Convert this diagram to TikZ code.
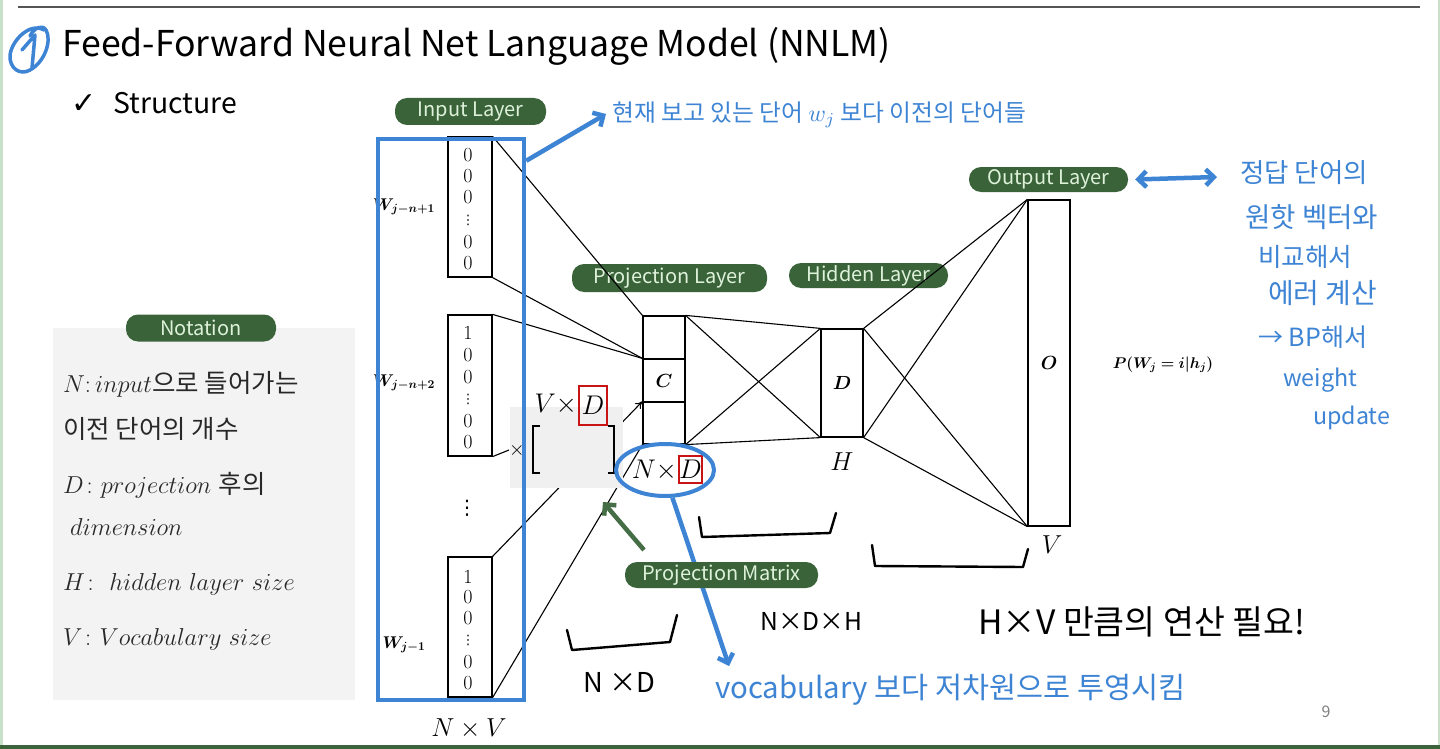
\RequirePackage{fix-cm}
\documentclass[tikz,border=0pt]{standalone}
\usepackage{amsmath}
\usepackage{bm}
\usepackage{fontspec}
\usepackage{graphicx}
\newfontfamily\kr{Noto Sans CJK KR}
\newfontfamily\dejavu{DejaVu Sans}
\usetikzlibrary{arrows.meta,shapes.geometric}
\definecolor{pillgreen}{RGB}{58,99,58}
\definecolor{pilltext}{RGB}{222,242,218}
\definecolor{hblue}{RGB}{62,132,212}
\definecolor{boxred}{RGB}{200,20,20}
\definecolor{notegray}{RGB}{243,243,243}
\definecolor{matgray}{RGB}{240,240,240}
\definecolor{framegreen}{RGB}{200,225,200}
\definecolor{bottomgreen}{RGB}{60,100,60}
\definecolor{topgray}{RGB}{85,85,85}
\definecolor{arrowgreen}{RGB}{70,110,70}
\definecolor{notetextcol}{RGB}{40,40,40}
\tikzset{
  pill/.style={fill=pillgreen, rounded corners=12pt, text=pilltext, font=\kr\fontsize{20}{20}\selectfont, inner sep=0pt},
  wire/.style={draw=black, line width=1.1pt},
  layerbox/.style={draw=black, line width=1.2pt, inner sep=0pt},
  bluestroke/.style={draw=hblue, line width=4.5pt},
  bluearrow/.style={draw=hblue, line width=4.5pt, -{Straight Barb[length=8pt,width=16pt]}},
  hand/.style={inner sep=0pt, anchor=west},
  onehot/.style={font=\fontsize{20}{20}\selectfont, inner sep=0pt},
  vdot/.style={inner sep=0pt, font=\dejavu\fontsize{13}{13}\selectfont},
  wlabel/.style={font=\fontsize{17}{17}\selectfont, inner sep=0pt},
  notetext/.style={anchor=base west, inner sep=0pt, text=notetextcol, font=\fontsize{24.5}{25}\selectfont},
  bigmath/.style={inner sep=0pt, font=\fontsize{27}{27}\selectfont},
  redbox/.style={draw=boxred, line width=2pt, inner sep=0pt, font=\fontsize{27}{27}\selectfont},
  brace/.style={draw=black, line width=2.4pt, line cap=round, line join=round},
}
\newcommand{\krn}{\kr\fontsize{25.5}{26}\selectfont}
\begin{document}
\begin{tikzpicture}[x=1pt,y=-1pt]
\useasboundingbox (0,0) rectangle (1440,749);
\fill[white] (0,0) rectangle (1440,749);
\fill[framegreen] (0,0) rectangle (2.5,749);
\fill[framegreen] (1437.5,0) rectangle (1440,749);
\fill[bottomgreen] (0,745) rectangle (1440,749);
\draw[line width=2.5pt, topgray] (18,7) -- (1420,7);

% title
\node[anchor=base west, inner sep=0pt, font=\kr\fontsize{35.6}{36}\selectfont] (title) at (62,57) {Feed-Forward Neural Net Language Model (NNLM)};
\draw[hblue, line width=3.5pt, line cap=round, line join=round]
  (44,30) .. controls (30,22) and (12,40) .. (10,55)
  .. controls (9,68) and (20,76) .. (30,70)
  .. controls (45,62) and (52,40) .. (46,30)
  .. controls (42,24) and (34,28) .. (30,36);
\draw[hblue, line width=3.5pt, line cap=round, line join=round] (22,50) -- (35,35) -- (32,68);
\node[anchor=base west, inner sep=0pt, font=\dejavu\fontsize{30}{30}\selectfont] (check) at (71,114) {✓};
\node[anchor=base west, inner sep=0pt, font=\kr\fontsize{28.4}{28}\selectfont] (structure) at (113,114) {Structure};

% notation panel
\fill[notegray] (53,328) rectangle (355,700);
\node[pill, minimum width=150pt, minimum height=27pt] (notation) at (201,328) {Notation};
\node[notetext] (n1) at (63,392) {$N\mathpunct{:}input${\krn 으로 들어가는}};
\node[notetext] (n2) at (63,438) {{\krn 이전 단어의 개수}};
\node[notetext] (n3) at (63,493) {$D\colon projection$ {\krn 후의}};
\node[notetext] (n4) at (70,535) {$dimension$};
\node[notetext] (n5) at (63,590) {$H\colon\ hidden\ layer\ size$};
\node[notetext] (n6) at (63,645) {$V\colon Vocabulary\ size$};

% pills
\node[pill, minimum width=151pt, minimum height=27pt] (inpill) at (470.5,111.5) {Input Layer};
\node[pill, minimum width=195pt, minimum height=28pt] (projpill) at (669.5,278) {Projection Layer};
\node[pill, minimum width=159pt, minimum height=25pt] (hidpill) at (868.5,275.5) {Hidden Layer};
\node[pill, minimum width=159pt, minimum height=25pt] (outpill) at (1048.5,179.5) {Output Layer};

% one-hot vectors
\node[layerbox, minimum width=44pt, minimum height=140pt] (v1) at (470,207) {};
\node[layerbox, minimum width=44pt, minimum height=141pt] (v2) at (470,385.5) {};
\node[layerbox, minimum width=44pt, minimum height=140pt] (v3) at (470,627) {};
\foreach \yy/\tt [count=\i] in {155/0,176/0,197/0,242/0,263/0} \node[onehot] (ea\i) at (468,\yy) {\tt};
\node[vdot] (eav) at (468,220) {⋮};
\foreach \yy/\tt [count=\i] in {333/1,355/0,377/0,421/0,442/0} \node[onehot] (eb\i) at (468,\yy) {\tt};
\node[vdot] (ebv) at (468,399) {⋮};
\foreach \yy/\tt [count=\i] in {577/1,597/0,618/0,662/0,683/0} \node[onehot] (ec\i) at (468,\yy) {\tt};
\node[vdot] (ecv) at (468,640) {⋮};
\node[inner sep=0pt, font=\dejavu\fontsize{20}{20}\selectfont] (midv) at (467,508) {⋮};
\node[wlabel] (w1) at (404,207) {$\bm{W_{j-n+1}}$};
\node[wlabel] (w2) at (404,383) {$\bm{W_{j-n+2}}$};
\node[wlabel] (w3) at (404,645) {$\bm{W_{j-1}}$};
\node[inner sep=0pt, font=\fontsize{26}{26}\selectfont] (nv) at (469,729) {$N\times V$};

% projection layer
\node[layerbox, minimum width=42pt, minimum height=43pt] (pc1) at (664,337.5) {};
\node[layerbox, minimum width=42pt, minimum height=43pt, font=\fontsize{19}{19}\selectfont] (pc2) at (664,380.5) {$\bm{C}$};
\node[layerbox, minimum width=42pt, minimum height=42pt] (pc3) at (664,423) {};

% hidden and output
\node[layerbox, minimum width=42pt, minimum height=108pt, font=\fontsize{19}{19}\selectfont] (hid) at (842,383) {$\bm{D}$};
\node[layerbox, minimum width=42pt, minimum height=326pt, font=\fontsize{19}{19}\selectfont] (out) at (1049,363) {$\bm{O}$};
\node[inner sep=0pt, font=\fontsize{26}{26}\selectfont] (hlab) at (842,462) {$H$};
\node[inner sep=0pt, font=\fontsize{26}{26}\selectfont] (vlab) at (1052,545) {$V$};
\node[inner sep=0pt, font=\fontsize{15.5}{16}\selectfont] (prob) at (1163,365) {$\bm{P(W_j=i|h_j)}$};

% times sign
\node[inner sep=0pt, font=\fontsize{20}{20}\selectfont] (times) at (517,450) {$\times$};

% wires
\draw[wire] (v1.north east) -- (pc1.north west);
\draw[wire] (v1.south east) -- (pc2.north west);
\draw[wire] (v2.north east) -- (pc2.north west);
\draw[wire] (v2.south east) -- (times.west);
\draw[wire, -{To[length=7pt,width=8pt]}] (v3.north east) -- (pc3.north west);
\draw[wire] (v3.south east) -- (pc3.south west);
\draw[wire] (pc1.north east) -- (hid.north west);
\draw[wire] (pc1.north east) -- (hid.south west);
\draw[wire] (pc3.south east) -- (hid.north west);
\draw[wire] (pc3.south east) -- (hid.south west);
\draw[wire] (hid.north east) -- (out.north west);
\draw[wire] (hid.north east) -- (out.south west);
\draw[wire] (hid.south east) -- (out.north west);
\draw[wire] (hid.south east) -- (out.south west);

% projection matrix block
\fill[matgray] (510,407) rectangle (623,488);
\node[inner sep=0pt] (times2) at (517,450) {\fontsize{20}{20}\selectfont$\times$};
\draw[line width=1.4pt] (540,426) -- (533,426) -- (533,473) -- (540,473);
\draw[line width=1.4pt] (608,426) -- (614,426) -- (614,473) -- (608,473);
\node[bigmath, anchor=east] (vx) at (577,404) {$V\times$};
\node[redbox, minimum width=28pt, minimum height=39pt] (dred1) at (593,405.5) {$D$};
\node[bigmath, anchor=east] (nx) at (677,470) {$N\times$};
\node[redbox, minimum width=23pt, minimum height=27pt] (dred2) at (690.5,469.5) {$D$};

% input blue rectangle
\node[bluestroke, inner sep=0pt, minimum width=146pt, minimum height=561pt] (inrect) at (451,419.5) {};

% blue annotations
\coordinate (a1) at (606,114);
\draw[bluearrow] ([yshift=-24pt]inrect.north east) -- (a1);
\node[hand] (h1) at (612,115) {\resizebox{414pt}{!}{\color{hblue}\kr 현재 보고 있는 단어 $w_j$ 보다 이전의 단어들}};

\coordinate (oa) at (1217,177);
\draw[draw=hblue, line width=4.5pt, {Straight Barb[length=8pt,width=16pt]}-{Straight Barb[length=8pt,width=16pt]}] ([xshift=7pt]outpill.east) -- (oa);
\node[hand] (h2) at (1240,173) {\resizebox{128pt}{!}{\color{hblue}\kr 정답 단어의}};
\node[hand] (h3) at (1245,217) {\resizebox{133pt}{!}{\color{hblue}\kr 원핫 벡터와}};
\node[hand] (h4) at (1258,257) {\resizebox{94pt}{!}{\color{hblue}\kr 비교해서}};
\node[hand] (h5) at (1268,293) {\resizebox{109pt}{!}{\color{hblue}\kr 에러 계산}};
\node[hand] (h6) at (1258,337) {\resizebox{109pt}{!}{\color{hblue}\kr → BP해서}};
\node[hand] (h7) at (1283,380) {\resizebox{74pt}{!}{\color{hblue}\kr weight}};
\node[hand] (h8) at (1313,418) {\resizebox{77pt}{!}{\color{hblue}\kr update}};

\node[draw=hblue, line width=4pt, ellipse, minimum width=98pt, minimum height=52pt, inner sep=0pt] (ell) at (665,470) {};
\coordinate (a2) at (729,666);
\draw[bluearrow] (ell.-75) -- (a2);
\node[hand] (h9) at (715,690) {\resizebox{470pt}{!}{\color{hblue}\kr vocabulary 보다 저차원으로 투영시킴}};

% projection matrix pill and arrow
\node[pill, minimum width=193pt, minimum height=26pt] (pmpill) at (721.5,575) {Projection Matrix};
\coordinate (ga) at (644,550);
\coordinate (gb) at (603,502);
\draw[draw=arrowgreen, line width=4.5pt, -{Straight Barb[length=8pt,width=16pt]}] (ga) -- (gb);

% black handwriting
\draw[brace] (567,630) -- (572,650) -- (670,642) -- (677,615);
\node[hand] (h10) at (583,682) {\resizebox{72pt}{!}{\kr N ×D}};
\draw[brace] (699,517) -- (702,537) -- (830,533) -- (836,513);
\node[hand] (h11) at (760,621) {\resizebox{102pt}{!}{\kr N×D×H}};
\draw[brace] (872,545) -- (875,566) -- (1023,567) -- (1028,549);
\node[hand] (h12) at (978,622) {\resizebox{327pt}{!}{\kr H×V 만큼의 연산 필요!}};

\node[inner sep=0pt, text=gray, font=\kr\fontsize{16}{16}\selectfont] (page) at (1326,712) {9};
\end{tikzpicture}
\end{document}
